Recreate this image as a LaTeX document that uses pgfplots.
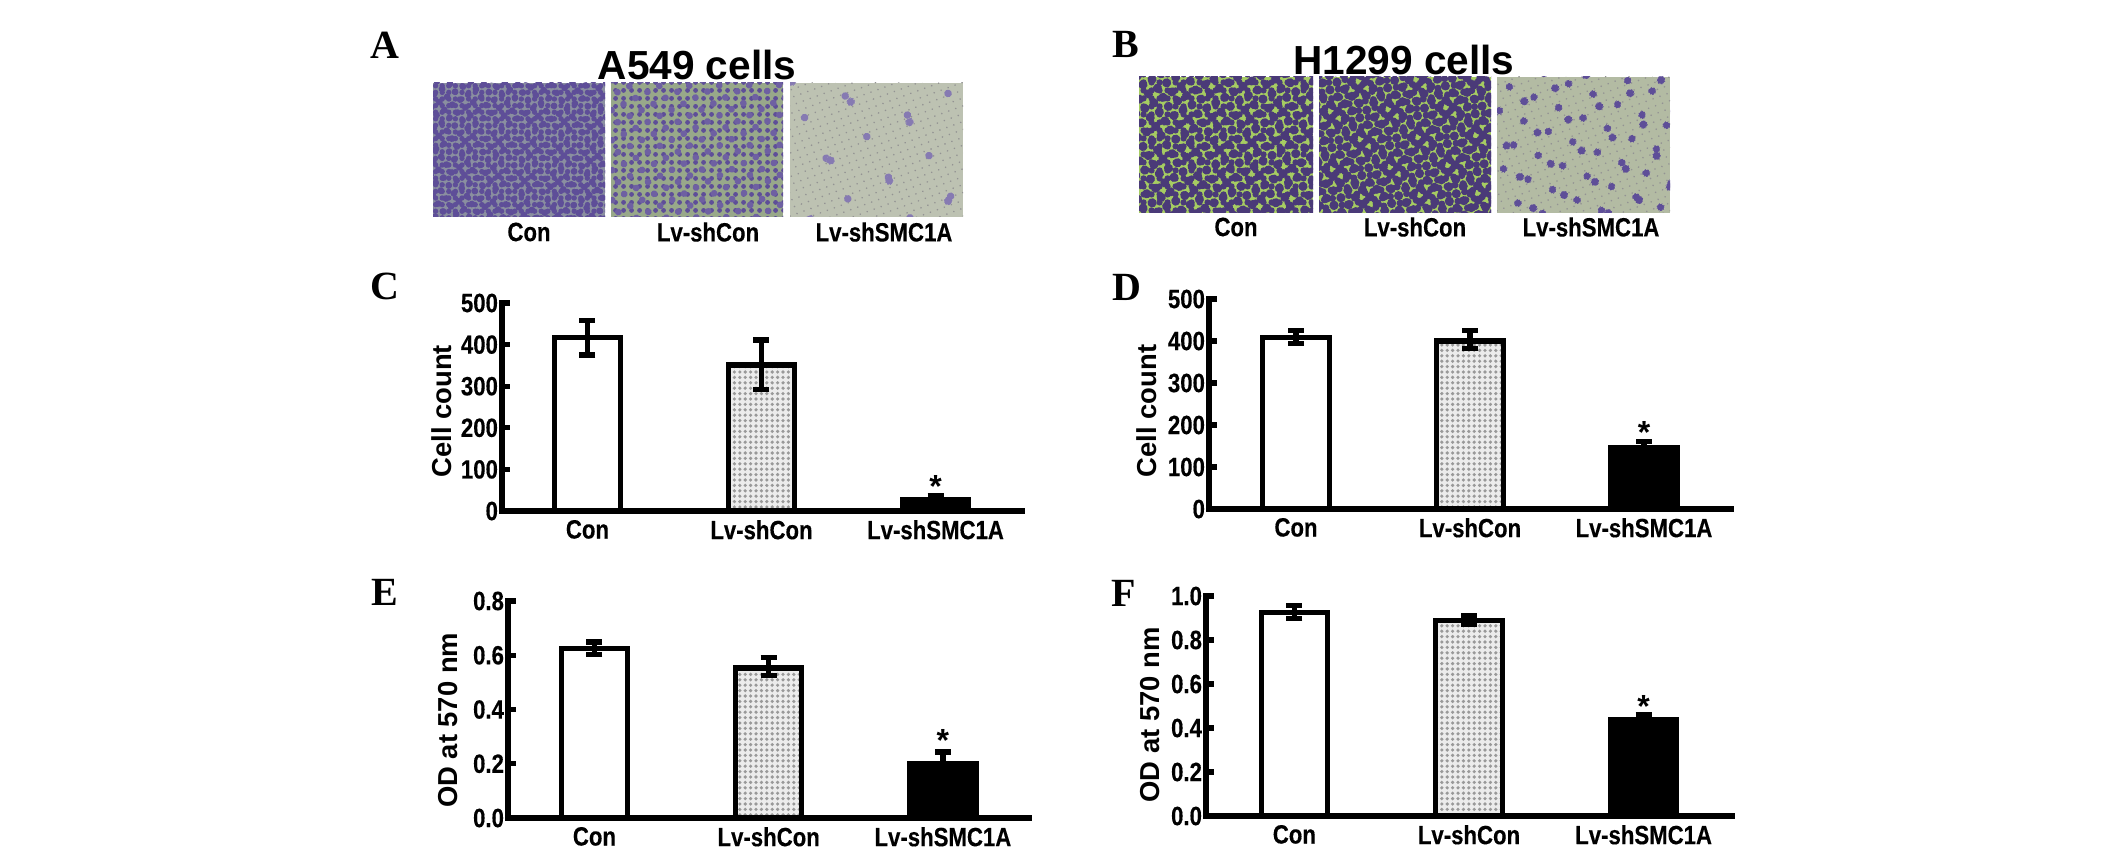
\documentclass[border=0pt]{standalone}
\usepackage{fontspec}
\setmainfont{Liberation Sans}
\newfontfamily\nar[FakeStretch=0.84,FakeBold=0.3]{Liberation Sans}
\newfontfamily\letterf{Liberation Serif}
\usepackage{pgfplots}
\pgfplotsset{compat=1.18}
\usetikzlibrary{patterns.meta}

\pgfplotsset{
  panel/.style={
    scale only axis,
    anchor=south west,
    axis lines=left,
    axis line style={-,line width=2.6pt,line cap=rect},
    ybar,
    bar shift=0pt,
    bar width=33.2pt,
    clip=false,
    xtick={0,1,2},
    xticklabels={Con,Lv-shCon,Lv-shSMC1A},
    x tick style={draw=none},
    y tick style={line width=2.6pt,black},
    tick align=inside,
    major tick length=4pt,
    tick label style={font=\nar\bfseries\fontsize{13.2}{14}\selectfont},
    xticklabel style={yshift=-1pt},
    yticklabel style={xshift=1.5pt},
    ylabel style={font=\bfseries\fontsize{13.7}{15}\selectfont},
  },
  conbar/.style={draw=black,line width=2.6pt,fill=white,
    error bars/.cd,y dir=both,y explicit,
    error bar style={line width=2.6pt,black},
    error mark options={rotate=90,line width=2.6pt,mark size=4pt,black}},
  shbar/.style={draw=black,line width=2.6pt,fill=gray!15,
    postaction={pattern={Dots[distance=2.7pt,radius=0.9pt]},pattern color=gray!80},
    error bars/.cd,y dir=both,y explicit,
    error bar style={line width=2.6pt,black},
    error mark options={rotate=90,line width=2.6pt,mark size=4pt,black}},
  smcbar/.style={draw=black,line width=2.6pt,fill=black,
    error bars/.cd,y dir=both,y explicit,
    error bar style={line width=2.6pt,black},
    error mark options={rotate=90,line width=2.6pt,mark size=4pt,black}},
}

\newcommand{\photo}[5]{% x0,y0,x1,y1,background
  \fill[#5] (#1,#2) rectangle (#3,#4);
}
\newcommand{\spots}[6]{% x0,y0,x1,y1,dot colour,dot options
  \fill[pattern={Dots[#6]},pattern color=#5] (#1,#2) rectangle (#3,#4);
}
\tikzset{
  plabel/.style={font=\nar\bfseries\fontsize{13.2}{14}\selectfont},
  ptitle/.style={font=\bfseries\fontsize{20.3}{22}\selectfont},
  pletter/.style={font=\letterf\bfseries\fontsize{20}{22}\selectfont},
  star/.style={font=\bfseries\fontsize{16}{16}\selectfont},
}
\definecolor{cellA}{HTML}{5E4E98}
\definecolor{cellB}{HTML}{4A3A78}
\definecolor{bgA}{HTML}{8A8FA0}
\definecolor{bgA2}{HTML}{98A88A}
\definecolor{bgB}{HTML}{A6CC62}
\definecolor{bgS}{HTML}{BDC2B2}
\definecolor{bgT}{HTML}{B3BBA3}

\begin{document}
\begin{tikzpicture}[x=0.5pt,y=0.5pt]
\path[use as bounding box] (0,0) rectangle (2126,858);

% micrographs, texture only
\photo{433}{641}{605}{775}{bgA}
\spots{433}{641}{605}{775}{cellA}{distance=3.3pt,radius=1.35pt}
\spots{433}{641}{605}{775}{cellA}{distance=4.7pt,radius=1.7pt,angle=33}
\photo{611}{641}{783}{775}{bgA2}
\spots{611}{641}{783}{775}{cellA}{distance=4pt,radius=1.35pt}
\spots{611}{641}{783}{775}{cellA!90}{distance=6.7pt,radius=1.7pt,angle=27}
\photo{790}{641}{963}{775}{bgS}
\spots{790}{641}{963}{775}{gray!85}{distance=3.7pt,radius=0.45pt,angle=20}
\spots{790}{641}{963}{775}{cellA!75}{distance=23pt,radius=1.9pt,angle=28}
\spots{790}{641}{963}{775}{cellA!75}{distance=31pt,radius=2.1pt,angle=71}
\photo{1139}{645}{1313}{781}{bgB}
\spots{1139}{645}{1313}{781}{cellB}{distance=4pt,radius=1.75pt}
\spots{1139}{645}{1313}{781}{cellB}{distance=5.3pt,radius=2.3pt,angle=31}
\photo{1319}{645}{1491}{781}{bgB}
\spots{1319}{645}{1491}{781}{cellB}{distance=4.1pt,radius=1.75pt,angle=10}
\spots{1319}{645}{1491}{781}{cellB}{distance=5.1pt,radius=2.3pt,angle=47}
\photo{1497}{645}{1670}{781}{bgT}
\spots{1497}{645}{1670}{781}{gray!85}{distance=3.7pt,radius=0.45pt,angle=20}
\spots{1497}{645}{1670}{781}{cellA}{distance=17pt,radius=2.1pt,angle=23}
\spots{1497}{645}{1670}{781}{cellA}{distance=13pt,radius=1.9pt,angle=67}

\node[ptitle] at (697,793) {A549 cells};
\node[ptitle] at (1404,798) {H1299 cells};
\node[pletter] at (385,813) {A};
\node[pletter] at (1126,814) {B};
\node[pletter] at (385,572) {C};
\node[pletter] at (1127,571) {D};
\node[pletter] at (385,266) {E};
\node[pletter] at (1124,265) {F};

\node[plabel] at (529,626) {Con};
\node[plabel] at (708,626) {Lv-shCon};
\node[plabel] at (884,626) {Lv-shSMC1A};
\node[plabel] at (1236,631) {Con};
\node[plabel] at (1415,631) {Lv-shCon};
\node[plabel] at (1591,631) {Lv-shSMC1A};

% C
\begin{axis}[panel,at={(251pt,173.5pt)},width=260pt,height=104pt,
  xmin=-0.491,xmax=2.497,ymin=0,ymax=500,
  ytick={0,100,200,300,400,500},
  yticklabels={0,100,200,300,400,500},
  ylabel={Cell count},
  ylabel style={at={(axis description cs:-0.115,0.48)},anchor=center}]
\addplot[conbar] coordinates {(0,418) +=(0,39) -=(0,43)};
\addplot[shbar] coordinates {(1,351) +=(0,60) -=(0,58)};
\addplot[smcbar] coordinates {(2,27) +=(0,11) -=(0,9)};
\node[star] at (axis cs:2,60) {*};
\end{axis}

% D
\begin{axis}[panel,at={(604.5pt,174.5pt)},width=261pt,height=105pt,
  xmin=-0.5,xmax=2.5,ymin=0,ymax=500,
  ytick={0,100,200,300,400,500},
  yticklabels={0,100,200,300,400,500},
  ylabel={Cell count},
  ylabel style={at={(axis description cs:-0.119,0.467)},anchor=center}]
\addplot[conbar] coordinates {(0,408) +=(0,17) -=(0,14)};
\addplot[shbar] coordinates {(1,400) +=(0,25) -=(0,18)};
\addplot[smcbar] coordinates {(2,146) +=(0,15) -=(0,9)};
\node[star] at (axis cs:2,182) {*};
\end{axis}

% E
\begin{axis}[panel,at={(254pt,20pt)},width=260.5pt,height=108.5pt,
  xmin=-0.496,xmax=2.494,ymin=0,ymax=0.8,
  ytick={0,0.2,0.4,0.6,0.8},
  yticklabels={0.0,0.2,0.4,0.6,0.8},
  ylabel={OD at 570 nm},
  ylabel style={at={(axis description cs:-0.115,0.45)},anchor=center}]
\addplot[conbar] coordinates {(0,0.625) +=(0,0.024) -=(0,0.023)};
\addplot[shbar] coordinates {(1,0.553) +=(0,0.039) -=(0,0.027)};
\addplot[smcbar] coordinates {(2,0.2) +=(0,0.043) -=(0,0.03)};
\node[star] at (axis cs:2,0.285) {*};
\end{axis}

% F
\begin{axis}[panel,at={(603pt,21pt)},width=263pt,height=110pt,
  xmin=-0.506,xmax=2.506,ymin=0,ymax=1,
  ytick={0,0.2,0.4,0.6,0.8,1},
  yticklabels={0.0,0.2,0.4,0.6,0.8,1.0},
  ylabel={OD at 570 nm},
  ylabel style={at={(axis description cs:-0.106,0.46)},anchor=center}]
\addplot[conbar] coordinates {(0,0.925) +=(0,0.033) -=(0,0.028)};
\addplot[shbar] coordinates {(1,0.887) +=(0,0.025) -=(0,0.016)};
\addplot[smcbar] coordinates {(2,0.437) +=(0,0.023) -=(0,0.013)};
\node[star] at (axis cs:2,0.5) {*};
\end{axis}
\end{tikzpicture}
\end{document}
